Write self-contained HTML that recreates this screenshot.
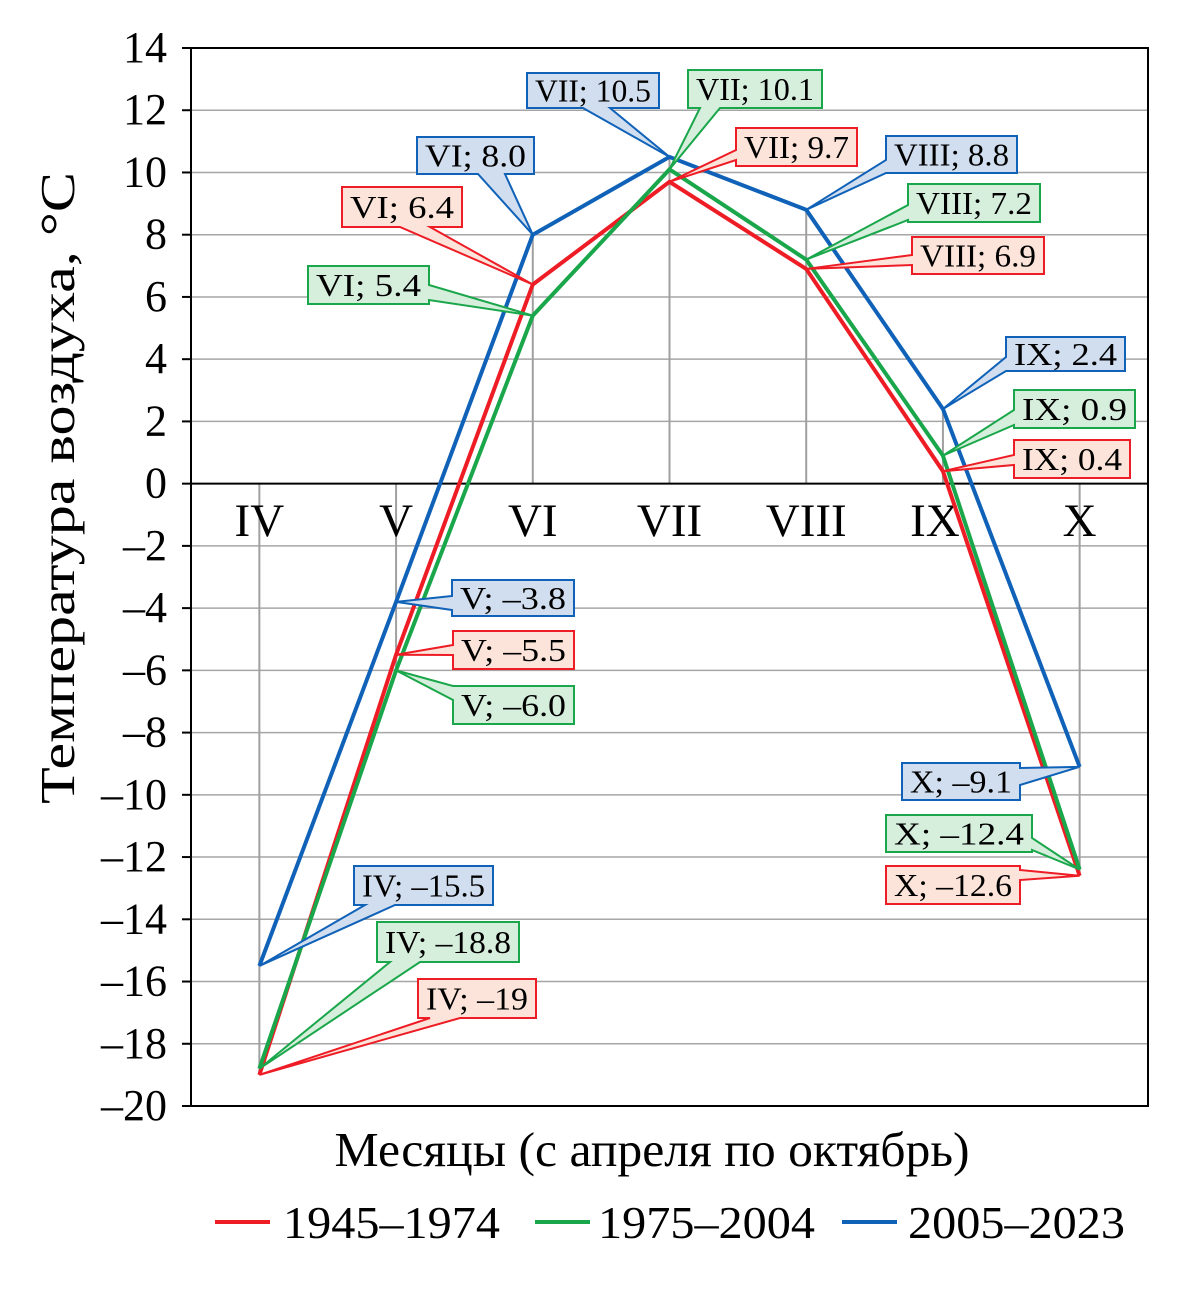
<!DOCTYPE html>
<html><head><meta charset="utf-8"><style>
html,body{margin:0;padding:0;background:#fff}
svg{display:block;font-family:"Liberation Serif",serif}
</style></head><body>
<svg id="chart" width="1203" height="1305" viewBox="0 0 1203 1305" xmlns="http://www.w3.org/2000/svg"></svg>
<script>
const months = ["IV","V","VI","VII","VIII","IX","X"];
const red = [-19, -5.5, 6.4, 9.7, 6.9, 0.4, -12.6];
const green = [-18.8, -6.0, 5.4, 10.1, 7.2, 0.9, -12.4];
const blue = [-15.5, -3.8, 8.0, 10.5, 8.8, 2.4, -9.1];
const yTicks = [14,12,10,8,6,4,2,0,-2,-4,-6,-8,-10,-12,-14,-16,-18,-20];
const seriesNames = ["1945–1974","1975–2004","2005–2023"];

const svg = document.getElementById('chart');
const NS = "http://www.w3.org/2000/svg";
const L=191,R=1148,T=48,B=1106,ymax=14,ymin=-20;
const band=(R-L)/months.length;
const x=i=>L+band*(i+0.5);
const y=v=>T+(ymax-v)*(B-T)/(ymax-ymin);
function mk(tag,attrs,parent){const e=document.createElementNS(NS,tag);for(const k in attrs)e.setAttribute(k,attrs[k]);(parent||svg).appendChild(e);return e;}
const fmt=v=>(v<0?"–":"")+(Number.isInteger(v)&&v===-19?"19":Math.abs(v).toFixed(1));

yTicks.forEach(t=>{
  if(t!==0&&t!==ymax&&t!==ymin){const g=mk('line',{x1:L,x2:R,y1:y(t),y2:y(t),stroke:'#a6a6a6','stroke-width':1.5});
  
  }
  const tk=mk('line',{x1:L-9,x2:L,y1:y(t),y2:y(t),stroke:'#000','stroke-width':2});
  
  
  const tl=mk('text',{x:167,y:y(t)+14,'text-anchor':'end','font-size':44});
  tl.textContent=(t<0?"–":"")+Math.abs(t);
  
  
});
months.forEach((m,i)=>{
  const vals=[red[i],green[i],blue[i]];
  const ext=vals[0]>=0?Math.max(...vals):Math.min(...vals);
  const d=mk('line',{x1:x(i),x2:x(i),y1:y(0),y2:y(ext),stroke:'#a0a0a0','stroke-width':2});
  
  
});
const fr=mk('rect',{x:L,y:T,width:R-L,height:B-T,fill:'none',stroke:'#000','stroke-width':2});


const z=mk('line',{x1:L,x2:R,y1:y(0),y2:y(0),stroke:'#000','stroke-width':2});


months.forEach((m,i)=>{
  const t=mk('text',{x:x(i)+(i===5?-8:0),y:536,'text-anchor':'middle','font-size':47});
  t.textContent=m;
  
  
});
const series=[{d:red,c:'#ee1c25',f:'#fce4da',n:'red'},{d:green,c:'#1aa64a',f:'#d6eedc',n:'green'},{d:blue,c:'#0f62b8',f:'#d1deef',n:'blue'}];
series.forEach((s,si)=>{
  const p=mk('polyline',{points:s.d.map((v,i)=>x(i)+','+y(v)).join(' '),fill:'none',stroke:s.c,'stroke-width':4,'stroke-linejoin':'miter'});
  
  
});
const layout={
 blue:[[354,866,139,39,'b',365,395],[452,580,122,36,'l',596,610],[417,137,117,37,'b',478,505],[527,73,132,35,'b',583,610],[886,136,131,37,'l',160,173],[1006,337,119,34,'l',357,371],[902,763,118,37,'r',768,785]],
 green:[[377,922,142,40,'b',390,420],[453,686,121,38,'l',686,700],[308,266,121,38,'r',285,300],[688,70,134,38,'b',700,720],[908,184,132,38,'l',205,220],[1014,390,121,38,'l',410,425],[886,815,146,37,'r',838,850]],
 red:[[418,979,118,39,'b',430,460],[453,631,121,38,'l',645,655],[342,187,120,40,'b',400,430],[736,128,121,38,'l',150,160],[912,237,132,37,'l',255,265],[1014,440,116,38,'l',455,465],[886,866,134,38,'r',870,880]]
};
series.slice().reverse().forEach(s=>{
  s.d.forEach((v,i)=>{
    const [bx,by,bw,bh,side,a,b]=layout[s.n][i];
    const px=x(i),py=y(v);
    let d;
    const r=bx+bw,bt=by+bh;
    if(side==='b') d=`M${bx},${by}H${r}V${bt}H${b}L${px},${py}L${a},${bt}H${bx}Z`;
    else if(side==='l') d=`M${bx},${by}H${r}V${bt}H${bx}V${b}L${px},${py}L${bx},${a}Z`;
    else d=`M${bx},${by}H${r}V${a}L${px},${py}L${r},${b}V${bt}H${bx}Z`;
    const g=mk('g',{});
    
    
    mk('path',{d:d,fill:s.f,stroke:s.c,'stroke-width':2},g);
    const t=mk('text',{x:bx+bw/2,y:by+bh/2+11,'text-anchor':'middle','font-size':32,textLength:bw-16,lengthAdjust:'spacingAndGlyphs'},g);
    t.textContent=months[i]+'; '+fmt(v);
  });
});
const xt=mk('text',{x:652,y:1166,'text-anchor':'middle','font-size':49,textLength:635,lengthAdjust:'spacingAndGlyphs'});
xt.textContent='Месяцы (с апреля по октябрь)';


const yt=mk('text',{x:0,y:0,'text-anchor':'middle','font-size':49,textLength:632,lengthAdjust:'spacingAndGlyphs',transform:'translate(74,488) rotate(-90)'});
yt.textContent='Температура воздуха, °C';


const lx=[215,535,842];
const tx=[283,598,908];
series.forEach((s,si)=>{
  const g=mk('g',{});
  
  
  mk('line',{x1:lx[si],x2:lx[si]+55,y1:1222,y2:1222,stroke:s.c,'stroke-width':4},g);
  const t=mk('text',{x:tx[si],y:1238,'font-size':46,textLength:217,lengthAdjust:'spacingAndGlyphs'},g);
  t.textContent=seriesNames[si];
});
</script>
</body></html>
